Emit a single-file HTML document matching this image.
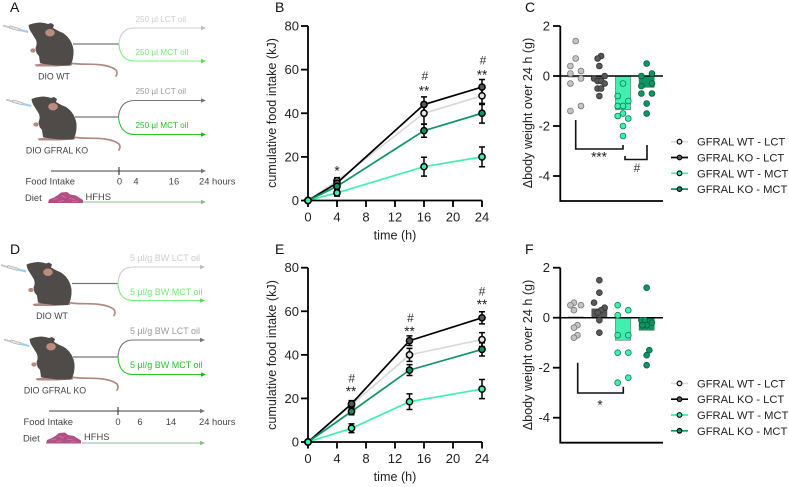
<!DOCTYPE html>
<html lang="en">
<head>
<meta charset="utf-8">
<title>Cumulative food intake and body weight change</title>
<style>
html,body{margin:0;padding:0;background:#fff;width:789px;height:487px;overflow:hidden}
svg{display:block}
text{font-family:"Liberation Sans",sans-serif;fill:#222}
.sch{font-size:8.2px;fill:#444}
.dose{font-size:9px}
.lab{font-size:8.8px;fill:#444}
.tl{font-size:9.4px;fill:#444}
.tick{font-size:13px;fill:#222}
.title{font-size:12.6px;fill:#222}
.letter{font-size:14px;fill:#111}
.legend{font-size:11.2px;fill:#222}
.note{font-size:12px;fill:#333;text-anchor:middle}
.star{font-size:13.5px;fill:#222;text-anchor:middle}
</style>
</head>
<body>
<svg id="figure" xmlns="http://www.w3.org/2000/svg" width="789" height="487" viewBox="0 0 789 487">
<defs>
  <g id="mouse-art">
    <path d="M3.500 25 L10 27 L9.700 28 L3.200 26.300 Z" fill="#d0d0d0" stroke="#aaa" stroke-width=".4"/>
    <path d="M10 25.800 L20 28.700 L19.300 31 L9.400 28.200 Z" fill="#e2e2e2" stroke="#999" stroke-width=".5"/>
    <path d="M20 28.700 L28.500 31 L28 33 L19.300 31 Z" fill="#9fd0ec"/>
    <path d="M70 63 C80 65 92 63.500 102 65 Q112 66.500 116 70 Q118 73 116 76" fill="none" stroke="#b08a82" stroke-width="1.700" stroke-linecap="round"/>
    <path d="M34.500 64.500 L42 63.500 L56 65 L72 63.500 L72 65.500 L56 66.500 L36 66.500 Z" fill="#b08a82"/>
    <path d="M28.500 25 Q33 23 40 22.500 Q45 22.800 48 24 L51 23 L54 25 L53 28 Q58 31 63 33 Q72 39 73.500 50 Q74 60 70 65.500 L56 65.500 L44 64 L40 63 L39 56 L36.500 53 L35.500 48 Q37.500 44 36 40 Q33 35 31 32 Q29 29 28.500 25 Z" fill="#4f4b49"/>
    <ellipse cx="50" cy="32.700" rx="4.800" ry="3.700" fill="#bd8c80"/>
    <ellipse cx="33" cy="50.500" rx="2.700" ry="2.100" fill="#b58a80"/>
  </g>
  <g id="food-art">
    <path d="M0 11.500 L1 8 L6 6 L10 3.500 L13 1 L19 0.500 L22 3 L28 4 L31 6 L35 8.500 L35 11.500 Z" fill="#b24f84"/>
    <path d="M5 8 L10 7 M13 4 L18 6 M21 7 L27 8 M10 10 L16 9 M24 10 L30 9.500" stroke="#d07aa5" stroke-width=".7" fill="none"/>
  </g>
</defs>

<text class="letter" x="10" y="12">A</text>
<text class="letter" x="275" y="12">B</text>
<text class="letter" x="525" y="12">C</text>
<text class="letter" x="10" y="254">D</text>
<text class="letter" x="275" y="254">E</text>
<text class="letter" x="525" y="254">F</text>

<!-- Schematic A -->
<g>
  <use href="#mouse-art"/>
  <use href="#mouse-art" transform="translate(3,74)"/>
  <path d="M73 44 H119" stroke="#777" stroke-width="1.200" fill="none"/>
  <path d="M119 44 Q120 28 135 28 H204" stroke="#cfcfcf" stroke-width="1.100" fill="none"/>
  <path d="M201 25.800 L206 28 L201 30.200 Z" fill="#bdbdbd"/>
  <path d="M119 44 Q120 61 135 61 H204" stroke="#78f078" stroke-width="1.100" fill="none"/>
  <path d="M201 58.800 L206 61 L201 63.200 Z" fill="#55dd55"/>
  <text class="sch" x="135.500" y="22" style="fill:#cdcdcd">250 µl LCT oil</text>
  <text class="sch" x="135.500" y="55" style="fill:#74ec74">250 µl MCT oil</text>
  <text class="lab" x="54" y="79.500" text-anchor="middle">DIO WT</text>
  <path d="M75 117 H118.500" stroke="#777" stroke-width="1.200" fill="none"/>
  <path d="M118.500 117 Q120 100.500 135 100.500 H204" stroke="#777" stroke-width="1.100" fill="none"/>
  <path d="M201 98.300 L206 100.500 L201 102.700 Z" fill="#777"/>
  <path d="M118.500 117 Q120 134.500 135 134.500 H204" stroke="#2ac92a" stroke-width="1.100" fill="none"/>
  <path d="M201 132.300 L206 134.500 L201 136.700 Z" fill="#1cb81c"/>
  <text class="sch" x="135.500" y="94" style="fill:#9a9a9a">250 µl LCT oil</text>
  <text class="sch" x="135.500" y="128" style="fill:#28bf28">250 µl MCT oil</text>
  <text class="lab" x="57" y="153.500" text-anchor="middle">DIO GFRAL KO</text>
  <path d="M51 171 H204" stroke="#808080" stroke-width="1.500" fill="none"/>
  <path d="M201 168.800 L206 171 L201 173.200 Z" fill="#777"/>
  <path d="M119 167 V175" stroke="#222" stroke-width="1"/>
  <text class="tl" x="25.500" y="184.500">Food Intake</text>
  <text class="tl" x="119.500" y="184.500" text-anchor="middle">0</text>
  <text class="tl" x="136" y="184.500" text-anchor="middle">4</text>
  <text class="tl" x="174" y="184.500" text-anchor="middle">16</text>
  <text class="tl" x="199" y="184.500">24 hours</text>
  <text class="tl" x="25" y="201">Diet</text>
  <use href="#food-art" transform="translate(48,191.500)"/>
  <text class="tl" x="85.500" y="200">HFHS</text>
  <path d="M83 202 H204" stroke="#a3c9a3" stroke-width="1.200" fill="none"/>
  <path d="M201 199.800 L206 202 L201 204.200 Z" fill="#8fbc8f"/>
</g>

<!-- Schematic D -->
<g>
  <use href="#mouse-art" transform="translate(-2,239.500)"/>
  <use href="#mouse-art" transform="translate(1,314)"/>
  <path d="M72 283.500 H118" stroke="#777" stroke-width="1.200" fill="none"/>
  <path d="M118 283.500 Q119 267 133 267 H203" stroke="#cfcfcf" stroke-width="1.100" fill="none"/>
  <path d="M200 264.800 L205 267 L200 269.200 Z" fill="#bdbdbd"/>
  <path d="M118 283.500 Q119 300.500 133 300.500 H203" stroke="#78f078" stroke-width="1.100" fill="none"/>
  <path d="M200 298.300 L205 300.500 L200 302.700 Z" fill="#55dd55"/>
  <text class="sch dose" x="130" y="261" style="fill:#cdcdcd">5 µl/g BW LCT oil</text>
  <text class="sch dose" x="130" y="295" style="fill:#74ec74">5 µl/g BW MCT oil</text>
  <text class="lab" x="52" y="319" text-anchor="middle">DIO WT</text>
  <path d="M73 357 H118" stroke="#777" stroke-width="1.200" fill="none"/>
  <path d="M118 357 Q119 340 133 340 H203" stroke="#777" stroke-width="1.100" fill="none"/>
  <path d="M200 337.800 L205 340 L200 342.200 Z" fill="#777"/>
  <path d="M118 357 Q119 374.500 133 374.500 H204" stroke="#2ac92a" stroke-width="1.100" fill="none"/>
  <path d="M201 372.300 L206 374.500 L201 376.700 Z" fill="#1cb81c"/>
  <text class="sch dose" x="130" y="334" style="fill:#9a9a9a">5 µl/g BW LCT oil</text>
  <text class="sch dose" x="130" y="368" style="fill:#28bf28">5 µl/g BW MCT oil</text>
  <text class="lab" x="55" y="393.500" text-anchor="middle">DIO GFRAL KO</text>
  <path d="M49 411 H203" stroke="#808080" stroke-width="1.500" fill="none"/>
  <path d="M200 408.800 L205 411 L200 413.200 Z" fill="#777"/>
  <path d="M118 407 V415" stroke="#222" stroke-width="1"/>
  <text class="tl" x="23.500" y="425">Food Intake</text>
  <text class="tl" x="118" y="425" text-anchor="middle">0</text>
  <text class="tl" x="140" y="425" text-anchor="middle">6</text>
  <text class="tl" x="171" y="425" text-anchor="middle">14</text>
  <text class="tl" x="199" y="425">24 hours</text>
  <text class="tl" x="23" y="441.300">Diet</text>
  <use href="#food-art" transform="translate(46,432)"/>
  <text class="tl" x="84" y="440">HFHS</text>
  <path d="M82 443 H203" stroke="#a3c9a3" stroke-width="1.200" fill="none"/>
  <path d="M200 440.800 L205 443 L200 445.200 Z" fill="#8fbc8f"/>
</g>

<g id="charts"></g>

<!-- Significance annotations, panel B -->
<g>
  <text class="star" x="337" y="175.700">*</text>
  <text class="note" x="425" y="80">#</text>
  <text class="star" x="424" y="95.400">**</text>
  <text class="note" x="483" y="64.300">#</text>
  <text class="star" x="482" y="79.400">**</text>
</g>
<!-- Significance annotations, panel E -->
<g>
  <text class="note" x="351.700" y="382.600">#</text>
  <text class="star" x="351" y="396">**</text>
  <text class="note" x="410.500" y="322">#</text>
  <text class="star" x="409.500" y="336">**</text>
  <text class="note" x="482" y="295.300">#</text>
  <text class="star" x="482" y="309">**</text>
</g>
<!-- Brackets, panel C -->
<g>
  <path d="M575.700 120 V149 H623 V145" fill="none" stroke="#111" stroke-width="1.600"/>
  <text class="star" x="599" y="161.700">***</text>
  <path d="M625 156 V159.500 H647 V145" fill="none" stroke="#111" stroke-width="1.600"/>
  <text class="note" x="637" y="172">#</text>
</g>
<!-- Brackets, panel F -->
<g>
  <path d="M577.700 362.700 V393 H623.300 V386.700" fill="none" stroke="#111" stroke-width="1.600"/>
  <text class="star" x="600" y="409.700">*</text>
</g>
</svg>

<script>
// Shared series names
var seriesNames = ['GFRAL WT - LCT', 'GFRAL KO - LCT', 'GFRAL WT - MCT', 'GFRAL KO - MCT'];

// Panel B: cumulative food intake (kJ)
var bTimes = [0, 4, 16, 24];
var bXTicks = [0, 4, 8, 12, 16, 20, 24];
var bYTicks = [0, 20, 40, 60, 80];
var bWtLct = [0, 9, 40, 48];
var bKoLct = [0, 8, 44, 52];
var bWtMct = [0, 3.5, 15.5, 20];
var bKoMct = [0, 6.5, 32, 40];
var bWtLctErr = [0, 1.5, 5, 4];
var bKoLctErr = [0, 1.5, 3.5, 3.5];
var bWtMctErr = [0, 1.5, 4.3, 4.5];
var bKoMctErr = [0, 1.5, 3, 4.5];

// Panel E: cumulative food intake (kJ)
var eTimes = [0, 6, 14, 24];
var eXTicks = [0, 4, 8, 12, 16, 20, 24];
var eYTicks = [0, 20, 40, 60, 80];
var eWtLct = [0, 17, 40, 47];
var eKoLct = [0, 17.5, 46.5, 57];
var eWtMct = [0, 6.3, 18.5, 24.3];
var eKoMct = [0, 14, 33, 42.5];
var eWtLctErr = [0, 1.5, 3, 3.2];
var eKoLctErr = [0, 1.5, 2.2, 2.8];
var eWtMctErr = [0, 2, 3.6, 4.4];
var eKoMctErr = [0, 1.5, 2.5, 3];

// Panel C: body weight change (g)
var cYTicks = [2, 0, -2, -4];
var cMeans = [-0.05, -0.1, -1.35, -0.45];
var cWtLct = [1.4, 0.7, 0.4, 0.1, 0.2, -0.1, -0.3, -1.4, -1.2];
var cKoLct = [0.8, 0.7, 0.4, 0, -0.1, -0.2, -0.2, -0.3, -0.5, -0.5, -0.8];
var cWtMct = [-0.3, -0.8, -1, -1.2, -1.2, -1.5, -1.6, -1.7, -2, -2.4];
var cKoMct = [0.5, 0.1, 0, -0.3, -0.4, -0.7, -0.7, -1.1, -1.5];
var cWtLctSwarm = [0, 0, -1, -1, 1, 1, -1, -1, 1];
var cKoLctSwarm = [0.33, -0.33, 0, 1, -1, -0.33, 0.33, 1, -0.33, 0.33, 0];
var cWtMctSwarm = [0, -1, 1, -1, 0, 0, -1, 1, 0, 0];
var cKoMctSwarm = [0, 1, -1, 1, -1, -1, 1, 0, 0];

// Panel F: body weight change (g)
var fYTicks = [2, 0, -2, -4];
var fMeans = [0.05, 0.35, -0.9, -0.5];
var fWtLct = [0.6, 0.5, 0.5, 0.3, -0.3, -0.4, -0.7, -0.8];
var fKoLct = [1.5, 1, 0.6, 0.4, 0.3, 0.2, -0.1, -0.6];
var fWtMct = [0.5, 0.3, 0.1, -0.7, -0.7, -1.4, -1.4, -2.4, -2.6];
var fKoMct = [1.2, -0.1, -0.2, -0.1, -0.3, -0.3, -1.3, -1.5, -1.9];
var fWtLctSwarm = [-0.33, -1, 1, -0.33, 0.33, -0.33, 0.33, -0.33];
var fKoLctSwarm = [0, 0, -1, 1, 0.33, -0.33, 0, 0];
var fWtMctSwarm = [-1, 1, -1, -1, 1, -1, 1, 1, -1];
var fKoMctSwarm = [0, -1, 1, -0.33, 0, -0.8, 0.5, 0, 0];

var LINE_STYLE = [
  {line: '#d9d9d9', fill: '#e4e4e4'},
  {line: '#000000', fill: '#585858'},
  {line: '#3ff0ae', fill: '#3ff0ae'},
  {line: '#0f9463', fill: '#0f9463'}
];
var BAR_STYLE = [
  {fill: '#e2e2e2', edge: '#bbbbbb', dot: '#c4c4c4', dotEdge: '#777777'},
  {fill: '#585858', edge: '#444444', dot: '#585858', dotEdge: '#333333'},
  {fill: '#3ff0ae', edge: '#5a7f70', dot: '#3ff0ae', dotEdge: '#0d7a55'},
  {fill: '#0f9463', edge: '#3f7a60', dot: '#0f9463', dotEdge: '#06603e'}
];

var NS = 'http://www.w3.org/2000/svg';
var root = document.getElementById('charts');

function mk(parent, tag, attrs, txt) {
  var el = document.createElementNS(NS, tag);
  for (var k in attrs) el.setAttribute(k, attrs[k]);
  if (txt !== undefined) el.textContent = txt;
  parent.appendChild(el);
  return el;
}

function slug(s) {
  return s.toLowerCase().replace(/[^a-z0-9]+/g, '-');
}

function drawLineChart(id, top, bottom, times, xTicks, yTicks, series, errors, titleY) {
  var x = function (v) { return 308 + v / 24 * 174; };
  var y = function (v) { return bottom - v / 80 * (bottom - top); };
  var g = mk(root, 'g', {});
  
  

  series.forEach(function (vals, s) {
    var pts = vals.map(function (v, i) { return x(times[i]) + ',' + y(v); }).join(' ');
    var pl = mk(g, 'polyline', {points: pts, fill: 'none', stroke: LINE_STYLE[s].line, 'stroke-width': 1.7});
    
    
  });

  var axis = mk(g, 'path', {d: 'M308 ' + top + ' V' + bottom + ' H482', fill: 'none', stroke: '#000', 'stroke-width': 1.8});
  
  

  yTicks.forEach(function (t) {
    var tk = mk(g, 'path', {d: 'M301 ' + y(t) + ' H308', stroke: '#000', 'stroke-width': 1.8});
    
    
    var lb = mk(g, 'text', {'class': 'tick', x: 299, y: y(t) + 4.5, 'text-anchor': 'end'}, t);
    
    
  });
  xTicks.forEach(function (t) {
    var tk = mk(g, 'path', {d: 'M' + x(t) + ' ' + bottom + ' V' + (bottom + 6.5), stroke: '#000', 'stroke-width': 1.8});
    
    
    var lb = mk(g, 'text', {'class': 'tick', x: x(t), y: bottom + 21, 'text-anchor': 'middle'}, t);
    
    
  });

  var xt = mk(g, 'text', {'class': 'title', x: 395, y: bottom + 39, 'text-anchor': 'middle'}, 'time (h)');
  
  
  var yt = mk(g, 'text', {'class': 'title', 'text-anchor': 'middle', transform: 'translate(276,' + titleY + ') rotate(-90)'}, 'cumulative food intake (kJ)');
  
  

  [0, 1, 3, 2].forEach(function (s) {
    series[s].forEach(function (v, i) {
      var e = errors[s][i];
      if (e > 0) {
        var cx = x(times[i]);
        var eb = mk(g, 'path', {
          d: 'M' + cx + ' ' + y(v - e) + ' V' + y(v + e) +
             ' M' + (cx - 3) + ' ' + y(v - e) + ' H' + (cx + 3) +
             ' M' + (cx - 3) + ' ' + y(v + e) + ' H' + (cx + 3),
          fill: 'none', stroke: '#000', 'stroke-width': 1.5
        });
        
        
      }
    });
  });
  [0, 1, 3, 2].forEach(function (s) {
    series[s].forEach(function (v, i) {
      var c = mk(g, 'circle', {cx: x(times[i]), cy: y(v), r: 3.1, fill: LINE_STYLE[s].fill, stroke: '#000', 'stroke-width': 1.5});
      
      
    });
  });
}

function drawBarChart(id, top, yTicks, means, groups, swarms, titleY) {
  var unit = 25;
  var zero = top + 2 * unit;
  var bottom = zero + 5 * unit;
  var y = function (v) { return zero - v * unit; };
  var band = function (i) { return 575.7 + i * 23.65; };
  var g = mk(root, 'g', {});
  
  

  means.forEach(function (m, i) {
    var b = mk(g, 'rect', {x: band(i) - 7.5, width: 15, y: Math.min(y(m), zero), height: Math.abs(y(m) - zero),
      fill: BAR_STYLE[i].fill, stroke: BAR_STYLE[i].edge, 'stroke-width': 0.7});
    
    
  });

  var axis = mk(g, 'path', {d: 'M560.300 ' + top + ' V' + bottom + ' H663', fill: 'none', stroke: '#000', 'stroke-width': 1.8});
  
  
  var zl = mk(g, 'path', {d: 'M560.300 ' + zero + ' H663', stroke: '#000', 'stroke-width': 1.5});
  
  

  yTicks.forEach(function (t) {
    var tk = mk(g, 'path', {d: 'M553 ' + y(t) + ' H560.300', stroke: '#000', 'stroke-width': 1.8});
    
    
    var lb = mk(g, 'text', {'class': 'tick', x: 550, y: y(t) + 4.5, 'text-anchor': 'end'}, t);
    
    
  });

  var yt = mk(g, 'text', {'class': 'title', 'text-anchor': 'middle', transform: 'translate(532,' + titleY + ') rotate(-90)'}, 'Δbody weight over 24 h (g)');
  
  

  groups.forEach(function (vals, i) {
    vals.forEach(function (v, j) {
      var c = mk(g, 'circle', {cx: band(i) + swarms[i][j] * 5.3, cy: y(v), r: 2.9,
        fill: BAR_STYLE[i].dot, stroke: BAR_STYLE[i].dotEdge, 'stroke-width': 0.8});
      
      
    });
  });

  // Legend
  var lg = mk(g, 'g', {});
  
  
  seriesNames.forEach(function (name, i) {
    var ly = top + 115.7 + i * 15.8;
    var ln = mk(lg, 'path', {d: 'M671 ' + ly + ' H688', stroke: LINE_STYLE[i].line, 'stroke-width': 1.7});
    
    
    var mkc = mk(lg, 'circle', {cx: 679.5, cy: ly, r: 2.3, fill: LINE_STYLE[i].fill, stroke: '#000', 'stroke-width': 1.2});
    
    
    var tx = mk(lg, 'text', {'class': 'legend', x: 697, y: ly + 4}, name);
    
    
  });
}

drawLineChart('b', 26, 200.5, bTimes, bXTicks, bYTicks,
  [bWtLct, bKoLct, bWtMct, bKoMct], [bWtLctErr, bKoLctErr, bWtMctErr, bKoMctErr], 113);
drawLineChart('e', 267.7, 442, eTimes, eXTicks, eYTicks,
  [eWtLct, eKoLct, eWtMct, eKoMct], [eWtLctErr, eKoLctErr, eWtMctErr, eKoMctErr], 355);
drawBarChart('c', 26, cYTicks, cMeans, [cWtLct, cKoLct, cWtMct, cKoMct],
  [cWtLctSwarm, cKoLctSwarm, cWtMctSwarm, cKoMctSwarm], 113);
drawBarChart('f', 267.7, fYTicks, fMeans, [fWtLct, fKoLct, fWtMct, fKoMct],
  [fWtLctSwarm, fKoLctSwarm, fWtMctSwarm, fKoMctSwarm], 355);
</script>
</body>
</html>
